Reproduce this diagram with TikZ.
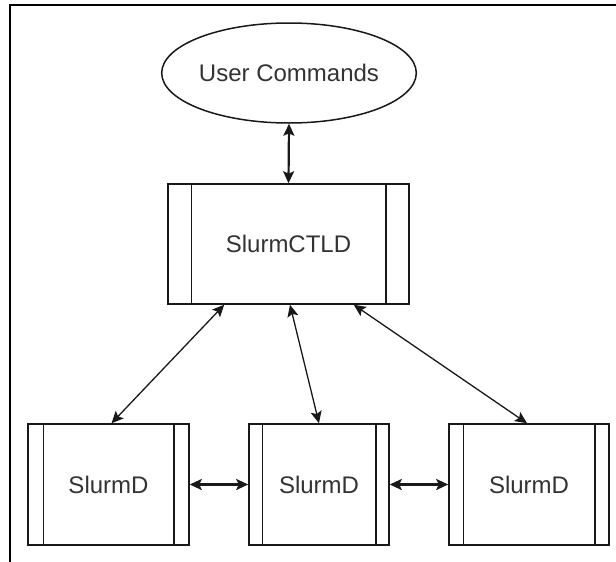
\documentclass[tikz,border=0pt]{standalone}
\usepackage{fontspec}
\setmainfont{Liberation Sans}
\usetikzlibrary{arrows.meta,shapes.geometric}
\tikzset{
  shapebox/.style={draw=black!90, line width=1.5pt, inner sep=0pt, text=black!80,
    font=\fontsize{24}{27}\selectfont},
  procbox/.style={shapebox, rectangle},
  ovalbox/.style={shapebox, ellipse},
  link/.style={line width=1.3pt, draw=black!90, {Stealth[length=12pt,width=11pt,inset=2.5pt]}-{Stealth[length=12pt,width=11pt,inset=2.5pt]}},
  thicklink/.style={link, line width=2.2pt},
  framebar/.style={line width=2pt, draw=black}
}
\newcommand\procbars[2]{%
  \draw[line width=1.5pt, black!90] ([xshift=#2]#1.north west) -- ([xshift=#2]#1.south west);
  \draw[line width=1.5pt, black!90] ([xshift=-#2]#1.north east) -- ([xshift=-#2]#1.south east);}
\begin{document}
\begin{tikzpicture}[x=1pt,y=-1pt]
\useasboundingbox (0,0) rectangle (616,562);
\draw[framebar] (10,562) -- (10,5) -- (616,5);
\node[ovalbox, minimum width=242pt, minimum height=100pt] (uc) at (289,73) {User Commands};
\node[procbox, minimum width=241pt, minimum height=120pt] (ctld) at (288.5,244) {SlurmCTLD};
\procbars{ctld}{24pt}
\node[procbox, minimum width=161pt, minimum height=121pt] (d1) at (108.5,484.5) {SlurmD};
\procbars{d1}{16pt}
\node[procbox, minimum width=140pt, minimum height=121pt] (d2) at (319,484.5) {SlurmD};
\procbars{d2}{14pt}
\node[procbox, minimum width=160pt, minimum height=121pt] (d3) at (529,484.5) {SlurmD};
\procbars{d3}{15pt}
\draw[thicklink] (uc.south) -- (ctld.north);
\draw[link] ([xshift=57pt]ctld.south west) -- ([xshift=3pt]d1.north);
\draw[link] ([xshift=1.5pt]ctld.south) -- (d2.north);
\draw[link] ([xshift=-56pt]ctld.south east) -- ([xshift=-2pt]d3.north);
\draw[thicklink] (d1.east) -- (d2.west);
\draw[thicklink] (d2.east) -- (d3.west);
\end{tikzpicture}
\end{document}
